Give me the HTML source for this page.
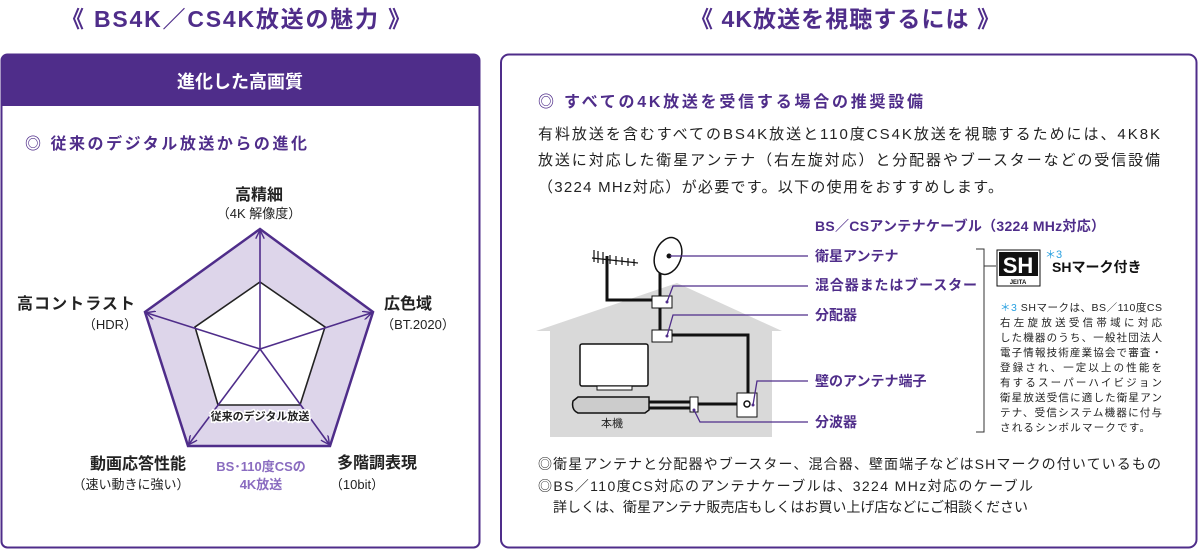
<!DOCTYPE html>
<html><head><meta charset="utf-8">
<style>
html,body{margin:0;padding:0;background:#fff;}
svg{display:block;font-family:"Liberation Sans","Noto Sans CJK JP",sans-serif;}
</style></head><body>
<svg width="1200" height="550" viewBox="0 0 1200 550" xmlns="http://www.w3.org/2000/svg">
<defs>
<marker id="ar" viewBox="0 0 10 10" refX="9" refY="5" markerWidth="9" markerHeight="9" orient="auto" markerUnits="userSpaceOnUse">
<path d="M0,0 L10,5 L0,10" fill="none" stroke="#4f2d8a" stroke-width="1.6"/></marker>
</defs>
<g font-weight="bold" fill="#4f2d8a">
<text x="236" y="27" font-size="23" text-anchor="middle" textLength="350">《 BS4K／CS4K放送の魅力 》</text>
<text x="845" y="27" font-size="23" text-anchor="middle" textLength="310">《 4K放送を視聴するには 》</text>
</g>
<!-- left box -->
<rect x="1.5" y="54.5" width="478" height="493" rx="6" fill="#fff" stroke="#4f2d8a" stroke-width="2"/>
<path d="M1.5,106 V60 a6,6 0 0 1 6,-6 H473.5 a6,6 0 0 1 6,6 V106 Z" fill="#4f2d8a"/>
<text x="240" y="88" font-size="18" font-weight="bold" fill="#fff" text-anchor="middle">進化した高画質</text>
<text x="25" y="149" font-size="16" font-weight="bold" fill="#4f2d8a" textLength="282">◎ 従来のデジタル放送からの進化</text>
<!-- pentagon -->
<polygon points="260,229 373,312 330,446 188,446 145,312" fill="#ddd5ea" stroke="#4f2d8a" stroke-width="2.5"/>
<polygon points="260,282 325,327 300,405 218,405 195,327" fill="#fff" stroke="#222" stroke-width="1.6"/>
<g stroke="#4f2d8a" stroke-width="1.6" marker-end="url(#ar)">
<line x1="260" y1="349" x2="260" y2="231"/>
<line x1="260" y1="349" x2="371" y2="313"/>
<line x1="260" y1="349" x2="329" y2="444"/>
<line x1="260" y1="349" x2="189" y2="444"/>
<line x1="260" y1="349" x2="147" y2="313"/>
</g>
<text x="260" y="420" font-size="11" font-weight="bold" fill="#222" text-anchor="middle" stroke="#fff" stroke-width="3" paint-order="stroke">従来のデジタル放送</text>
<g font-size="16" font-weight="bold" fill="#222" text-anchor="middle">
<text x="259" y="200">高精細</text>
<text x="76" y="309" textLength="118">高コントラスト</text>
<text x="408" y="309">広色域</text>
<text x="138" y="469">動画応答性能</text>
<text x="377" y="468">多階調表現</text>
</g>
<g font-size="13" fill="#222" text-anchor="middle">
<text x="259" y="218">（4K 解像度）</text>
<text x="110" y="329">（HDR）</text>
<text x="418" y="329">（BT.2020）</text>
<text x="131" y="489">（速い動きに強い）</text>
<text x="357" y="489">（10bit）</text>
</g>
<g font-size="13" font-weight="bold" fill="#8a6cc0" text-anchor="middle">
<text x="261" y="471">BS･110度CSの</text>
<text x="261" y="489">4K放送</text>
</g>
<!-- right box -->
<rect x="501" y="54.5" width="695.5" height="493" rx="8" fill="#fff" stroke="#4f2d8a" stroke-width="2"/>
<text x="538" y="107" font-size="16" font-weight="bold" fill="#4f2d8a" textLength="385">◎ すべての4K放送を受信する場合の推奨設備</text>
<g font-size="15" fill="#222">
<text x="538" y="139" textLength="622">有料放送を含むすべてのBS4K放送と110度CS4K放送を視聴するためには、4K8K</text>
<text x="538" y="165" textLength="622">放送に対応した衛星アンテナ（右左旋対応）と分配器やブースターなどの受信設備</text>
<text x="538" y="192" textLength="465">（3224 MHz対応）が必要です。以下の使用をおすすめします。</text>
</g>
<text x="815" y="231" font-size="14" font-weight="bold" fill="#4f2d8a" textLength="290">BS／CSアンテナケーブル（3224 MHz対応）</text>
<!-- house -->
<polygon points="536,331 677,283 782,331 772,331 772,437 550,437 550,331" fill="#d9d9d9"/>
<!-- cables -->
<g fill="none" stroke="#111" stroke-width="3">
<path d="M607,256 V300 H660"/>
<path d="M660,262 V340"/>
<path d="M668,335 H748 V395"/>
<path d="M648,402 H690"/>
<path d="M648,408 H690"/>
<path d="M697,404 H744"/>
</g>
<!-- yagi antenna -->
<g stroke="#111" stroke-width="1.2" fill="none">
<path d="M592,258 L638,263"/>
<path d="M594,250 V262 M598,251 V263 M603,252 V264 M610,255 V264 M616,256 V265 M622,257 V265 M628,258 V266 M634,259 V266"/>
</g>
<!-- dish -->
<ellipse cx="668" cy="256" rx="13" ry="19" fill="#fff" stroke="#111" stroke-width="1.5" transform="rotate(20 668 256)"/>
<circle cx="669" cy="256" r="2.5" fill="#111"/>
<!-- boxes -->
<rect x="652" y="296" width="20" height="12" fill="#fff" stroke="#111" stroke-width="1"/>
<rect x="652" y="330" width="20" height="12" fill="#fff" stroke="#111" stroke-width="1"/>
<rect x="737" y="393" width="20" height="24" fill="#fff" stroke="#111" stroke-width="1"/>
<circle cx="747" cy="404" r="3" fill="#fff" stroke="#111" stroke-width="1.5"/>
<rect x="690" y="397" width="8" height="15" fill="#fff" stroke="#111" stroke-width="1"/>
<!-- tv -->
<rect x="580" y="344" width="68" height="42" rx="2" fill="#fff" stroke="#111" stroke-width="1.5"/>
<rect x="597" y="386" width="35" height="4" fill="#fff" stroke="#111" stroke-width="1"/>
<path d="M573,401 L578,397 H649 V410 L645,413 H578 Q571,410 573,401 Z" fill="#ccc" stroke="#111" stroke-width="1.5"/>
<text x="612" y="427" font-size="11" fill="#222" text-anchor="middle">本機</text>
<!-- leader lines -->
<g stroke="#4f2d8a" stroke-width="1.3" fill="none">
<path d="M670,256 H808"/>
<path d="M667,302 L673,286 H808"/>
<path d="M667,336 L673,315 H808"/>
<path d="M753,405 L757,381 H808"/>
<path d="M694,410 L700,422 H808"/>
</g>
<g fill="#4f2d8a"><circle cx="667" cy="302" r="1.5"/><circle cx="667" cy="336" r="1.5"/><circle cx="753" cy="405" r="1.5"/><circle cx="694" cy="410" r="1.5"/></g>
<g font-size="14" font-weight="bold" fill="#4f2d8a">
<text x="815" y="261">衛星アンテナ</text>
<text x="815" y="290" textLength="162">混合器またはブースター</text>
<text x="815" y="320">分配器</text>
<text x="815" y="386">壁のアンテナ端子</text>
<text x="815" y="427">分波器</text>
</g>
<!-- bracket -->
<path d="M976,249 H984 V432 H976 M984,266 H996" fill="none" stroke="#333" stroke-width="1"/>
<!-- SH mark -->
<rect x="997" y="250" width="43" height="36" fill="#fff" stroke="#111" stroke-width="1"/>
<rect x="999" y="252" width="39" height="24" fill="#111"/>
<text x="1018" y="273" font-size="22" font-weight="bold" fill="#fff" text-anchor="middle">SH</text>
<text x="1018" y="284" font-size="6" font-weight="bold" fill="#111" text-anchor="middle">JEITA</text>
<text x="1045" y="258" font-size="11" fill="#29a0e0">＊3</text>
<text x="1052" y="272" font-size="14" font-weight="bold" fill="#111">SHマーク付き</text>
<g font-size="10.5" fill="#222">
<text x="1000" y="311" textLength="162"><tspan fill="#29a0e0">＊3 </tspan>SHマークは、BS／110度CS</text>
<text x="1000" y="326" textLength="162">右左旋放送受信帯域に対応</text>
<text x="1000" y="341" textLength="162">した機器のうち、一般社団法人</text>
<text x="1000" y="356" textLength="162">電子情報技術産業協会で審査・</text>
<text x="1000" y="371" textLength="162">登録され、一定以上の性能を</text>
<text x="1000" y="386" textLength="162">有するスーパーハイビジョン</text>
<text x="1000" y="401" textLength="162">衛星放送受信に適した衛星アン</text>
<text x="1000" y="416" textLength="162">テナ、受信システム機器に付与</text>
<text x="1000" y="431" textLength="150">されるシンボルマークです。</text>
</g>
<g font-size="14" fill="#222">
<text x="538" y="469" textLength="623">◎衛星アンテナと分配器やブースター、混合器、壁面端子などはSHマークの付いているもの</text>
<text x="538" y="491" textLength="495">◎BS／110度CS対応のアンテナケーブルは、3224 MHz対応のケーブル</text>
<text x="553" y="512" textLength="475">詳しくは、衛星アンテナ販売店もしくはお買い上げ店などにご相談ください</text>
</g>
</svg>
</body></html>
